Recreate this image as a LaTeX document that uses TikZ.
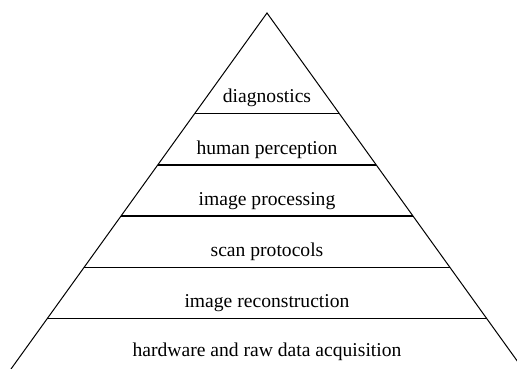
\documentclass[tikz,border=0pt]{standalone}
\usepackage{fontspec}
\setmainfont{Liberation Serif}[Extension=.ttf,UprightFont=LiberationSerif-Regular]
\usetikzlibrary{calc}
\begin{document}
\begin{tikzpicture}[x=1pt,y=-1pt,
  edge/.style={line width=1pt,line join=miter},
  level/.style={line width=1.1pt},
  lbl/.style={anchor=base,inner sep=0pt,font=\fontsize{19.6}{22}\selectfont}]
\useasboundingbox (0,0) rectangle (517,369);
\coordinate (apex) at (267,13);
\coordinate (bl) at (11,369);
\coordinate (br) at (523,369);
\draw[edge] (bl) -- (apex) -- (br);
\foreach \t [count=\i] in {0.2823,0.4270,0.5702,0.7149,0.8581}{
  \coordinate (l\i) at ($(apex)!\t!(bl)$);
  \coordinate (r\i) at ($(apex)!\t!(br)$);
  \draw[level] (l\i) -- (r\i);
}
\node[lbl] (n1) at (267,102.7) {diagnostics};
\node[lbl] (n2) at (267,154.2) {human perception};
\node[lbl] (n3) at (267,205.2) {image processing};
\node[lbl] (n4) at (267,256.5) {scan protocols};
\node[lbl] (n5) at (267,307.5) {image reconstruction};
\node[lbl] (n6) at (267,356.5) {hardware and raw data acquisition};
\end{tikzpicture}
\end{document}
